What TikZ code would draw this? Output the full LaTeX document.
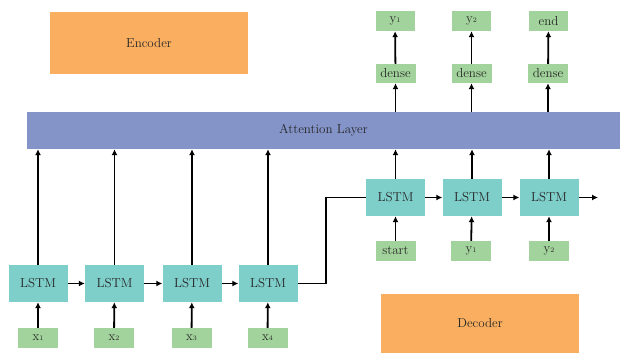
\documentclass[tikz,border=0pt]{standalone}
\usepackage{fontspec}
\usepackage{tikz}
\usetikzlibrary{arrows.meta, positioning}
\definecolor{lstmcol}{HTML}{7ECECA}
\definecolor{incol}{HTML}{A3D39C}
\definecolor{orangecol}{HTML}{FAAE5F}
\definecolor{attncol}{HTML}{8494C9}

\begin{document}
\begin{tikzpicture}[x=1pt, y=-1pt,
            every node/.style={font=\fontsize{13}{15}\selectfont, text=black!85, inner sep=0pt},
            cell/.style={rectangle, fill=lstmcol, minimum width=59pt, minimum height=37pt},
            inbox/.style={rectangle, fill=incol, minimum width=40pt, minimum height=20pt},
            bigbox/.style={rectangle, fill=orangecol, minimum width=198pt},
            link/.style={-{Latex[length=6pt, width=6pt]}, line width=1.8pt}]
            \useasboundingbox (0,0) rectangle (620,353);

            \node[bigbox, minimum height=62pt] (encoder) at (149,43) {Encoder};
            \node[bigbox, minimum height=59pt] (decoder) at (480,323.5) {Decoder};
            \node[rectangle, fill=attncol, minimum width=593pt, minimum height=37pt] (attn) at (323.5,130.5) {Attention Layer};

            % encoder side
            \node[cell] (e1) at (38,283.5) {LSTM};
            \node[cell] (e2) at (114.5,283.5) {LSTM};
            \node[cell] (e3) at (192,283.5) {LSTM};
            \node[cell] (e4) at (268,283.5) {LSTM};
            \node[inbox] (x1) at (38,338) {x\raisebox{0.3pt}{\scriptsize 1}};
            \node[inbox] (x2) at (114,338) {x\raisebox{0.3pt}{\scriptsize 2}};
            \node[inbox] (x3) at (191.5,338) {x\raisebox{0.3pt}{\scriptsize 3}};
            \node[inbox] (x4) at (267.5,338) {x\raisebox{0.3pt}{\scriptsize 4}};

            % decoder side
            \node[cell] (d1) at (395.5,197.5) {LSTM};
            \node[cell] (d2) at (472,197.5) {LSTM};
            \node[cell] (d3) at (549,197.5) {LSTM};
            \node[inbox] (s1) at (395.5,251) {start};
            \node[inbox] (s2) at (471,251) {y\raisebox{0.3pt}{\scriptsize 1}};
            \node[inbox] (s3) at (549,251) {y\raisebox{0.3pt}{\scriptsize 2}};
            \node[inbox, minimum height=19pt] (dense1) at (395.5,73.5) {dense};
            \node[inbox, minimum height=19pt] (dense2) at (471.5,73.5) {dense};
            \node[inbox, minimum height=19pt] (dense3) at (548,73.5) {dense};
            \node[inbox, minimum width=39pt] (out1) at (395,21) {y\raisebox{0.3pt}{\scriptsize 1}};
            \node[inbox, minimum width=39pt] (out2) at (471.5,21) {y\raisebox{0.3pt}{\scriptsize 2}};
            \node[inbox, minimum width=39pt] (out3) at (548.5,21) {end};
            \coordinate (dend) at (598,197.5);

            \foreach \i in {1,...,4} {
                \draw[link] (x\i) -- (e\i);
                \draw[link] (e\i.north) -- (e\i.north |- attn.south);
            }
            \foreach \a/\b in {e1/e2, e2/e3, e3/e4, d1/d2, d2/d3, d3/dend}
                \draw[link] (\a) -- (\b);
            \draw[line width=1.8pt] (e4.east) -- ++(28,0) |- (d1.west);

            \foreach \i in {1,2,3} {
                \draw[link] (s\i) -- (d\i);
                \draw[link] (d\i.north) -- (d\i.north |- attn.south);
                \draw[link] (dense\i.south |- attn.north) -- (dense\i.south);
                \draw[link] (dense\i) -- (out\i);
            }
        \end{tikzpicture}
\end{document}
